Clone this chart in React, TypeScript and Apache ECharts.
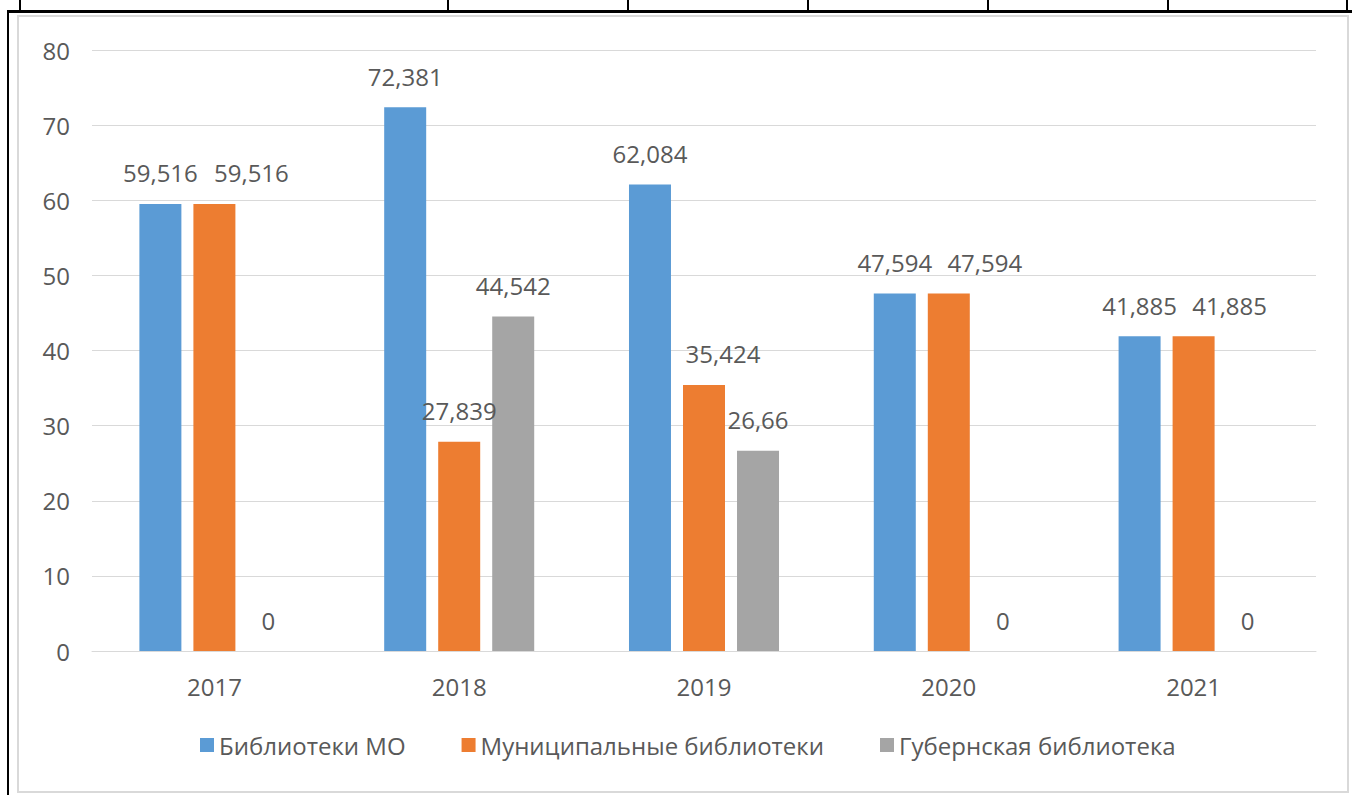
import React, { useEffect, useRef } from "react";
import * as echarts from "echarts";

const categories = ["2017", "2018", "2019", "2020", "2021"];
const seriesNames = ["Библиотеки МО", "Муниципальные библиотеки", "Губернская библиотека"];
const libMO = [59.516, 72.381, 62.084, 47.594, 41.885];
const municipal = [59.516, 27.839, 35.424, 47.594, 41.885];
const gubern = [0, 44.542, 26.66, 0, 0];
const colors = ["#5B9BD5", "#ED7D31", "#A5A5A5"];
// horizontal label shifts (px) used in the original to keep labels apart
const municipalLabelShift = [37, 0, 19, 36, 36];
const yTicks = { min: 0, max: 80, interval: 10 };
const tableColumnLines = [19, 447, 627, 807, 987, 1167, 1346];

const FONT = "'Open Sans', 'Noto Sans', sans-serif";
const TEXT = "#595959";
const FS = 24;

export default function App() {
  const ref = useRef<HTMLDivElement>(null);
  useEffect(() => {
    if (!ref.current) return;
    const chart = echarts.init(ref.current, null, { renderer: "svg" });
    const fmt = (p: any) => String(p.value).replace(".", ",");
    const mk = (name: string, data: number[], color: string, shifts?: number[]) => ({
      name,
      type: "bar",
      data: data.map((v, i) =>
        shifts && shifts[i] ? { value: v, label: { offset: [shifts[i], 0] } } : v
      ),
      barWidth: 42,
      barGap: "28.6%",
      itemStyle: { color },
      label: {
        show: true,
        position: "top",
        distance: 19,
        formatter: fmt,
        color: TEXT,
        fontSize: FS,
        fontFamily: FONT,
      },
    });
    chart.setOption({
      animation: false,
      textStyle: { fontFamily: FONT },
      grid: { left: 92, right: 36, top: 50, bottom: 144 },
      legend: {
        data: seriesNames,
        left: 195,
        top: 728,
        itemWidth: 14,
        itemHeight: 14,
        itemGap: 56,
        icon: "rect",
        textStyle: { color: TEXT, fontSize: FS, fontFamily: FONT },
      },
      xAxis: {
        type: "category",
        data: categories,
        axisLine: { lineStyle: { color: "#D9D9D9", width: 1 } },
        axisTick: { show: false },
        axisLabel: { color: TEXT, fontSize: FS, fontFamily: FONT, margin: 23 },
      },
      yAxis: {
        type: "value",
        min: yTicks.min,
        max: yTicks.max,
        interval: yTicks.interval,
        axisLine: { show: false },
        axisTick: { show: false },
        splitLine: { lineStyle: { color: "#D9D9D9", width: 1 } },
        axisLabel: { color: TEXT, fontSize: FS, fontFamily: FONT, margin: 22 },
      },
      series: [
        mk(seriesNames[0], libMO, colors[0]),
        mk(seriesNames[1], municipal, colors[1], municipalLabelShift),
        mk(seriesNames[2], gubern, colors[2]),
      ],
    });
    return () => chart.dispose();
  }, []);

  return (
    <div style={{ position: "fixed", left: 0, top: 0, width: 1352, height: 795, background: "#fff", overflow: "hidden" }}>
      {tableColumnLines.map((x, i) => (
        <div key={i} style={{ position: "absolute", left: x, top: 0, width: 2, height: 11, background: "#000" }} />
      ))}
      <div style={{ position: "absolute", left: 7, top: 10, width: 1345, height: 3, background: "#000" }} />
      <div style={{ position: "absolute", left: 7, top: 10, width: 2, height: 785, background: "#000" }} />
      <div
        style={{
          position: "absolute",
          left: 17,
          top: 15,
          width: 1328,
          height: 774,
          border: "2px solid #D9D9D9",
          background: "#fff",
        }}
      />
      <div ref={ref} style={{ position: "absolute", left: 0, top: 0, width: 1352, height: 795 }} />
    </div>
  );
}
